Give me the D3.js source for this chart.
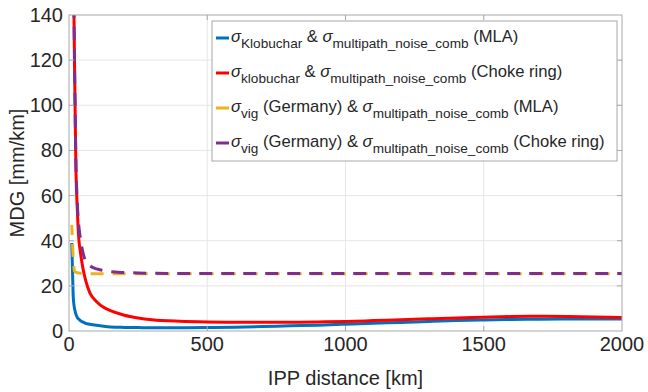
<!DOCTYPE html>
<meta charset="utf-8">
<style>
body { margin: 0; background: #fff; }
text { font-family: "Liberation Sans", Arial, sans-serif; fill: #262626; }
.grid line { stroke: #e6e6e6; stroke-width: 1; }
.frame { fill: none; stroke: #a8a8a8; stroke-width: 1; }
.tick-mark { stroke: #a8a8a8; stroke-width: 1; }
</style>
<body>
<script src="https://cdn.jsdelivr.net/npm/d3@7"></script>
<script>

// IPP distance [km]
var distance = [10, 12, 15, 18, 20, 25, 30, 36, 40, 50, 60, 75, 100, 125, 150, 200, 250, 300, 400, 500,
  600, 700, 800, 900, 1000, 1100, 1200, 1300, 1400, 1500, 1600, 1700, 1800, 1900, 2000];

// MDG [mm/km]
var klobucharMLA = [39, 30, 16, 11.5, 10, 7.5, 6, 5.2, 4.7, 4, 3.4, 3, 2.5, 2.1, 1.8, 1.6, 1.5, 1.4, 1.4, 1.5,
  1.7, 2.0, 2.3, 2.6, 3.0, 3.4, 3.8, 4.2, 4.6, 4.9, 5.1, 5.2, 5.3, 5.3, 5.3];
var klobucharChoke = [320, 240, 180, 140, 118, 72, 54, 40, 36, 28, 22.5, 17, 13, 10.5, 9, 7, 5.8, 5, 4.3, 4,
  3.9, 3.9, 3.9, 4.0, 4.2, 4.6, 5.0, 5.4, 5.8, 6.1, 6.4, 6.5, 6.4, 6.2, 6.0];
var vigMLA = [47, 41, 33, 28, 26.5, 26, 25.8, 25.7, 25.6, 25.5, 25.4, 25.4, 25.4, 25.4, 25.4, 25.4, 25.4, 25.4, 25.4, 25.4,
  25.4, 25.4, 25.4, 25.4, 25.4, 25.4, 25.4, 25.4, 25.4, 25.4, 25.4, 25.4, 25.4, 25.4, 25.4];
var vigChoke = [320, 240, 185, 142, 120, 75, 57, 46, 42, 35, 31, 29, 27.5, 26.8, 26.3, 25.9, 25.7, 25.6, 25.5, 25.5,
  25.5, 25.5, 25.5, 25.5, 25.5, 25.5, 25.5, 25.5, 25.5, 25.5, 25.5, 25.5, 25.5, 25.5, 25.5];

var xTicks = [0, 500, 1000, 1500, 2000];
var yTicks = [0, 20, 40, 60, 80, 100, 120, 140];

var series = [
  {values: klobucharMLA, color: "#0072BD", dash: null, sub1: "Klobuchar", mid: null, tail: " (MLA)"},
  {values: klobucharChoke, color: "#FF0000", dash: null, sub1: "klobuchar", mid: null, tail: " (Choke ring)"},
  {values: vigMLA, color: "#EDB120", dash: "13,9", sub1: "vig", mid: " (Germany)", tail: " (MLA)"},
  {values: vigChoke, color: "#7E2F8E", dash: "13,9", sub1: "vig", mid: " (Germany)", tail: " (Choke ring)"}
];

var width = 648,
	height = 392,
	margin = {top: 15, right: 26, bottom: 61, left: 69},
	w = width - margin.left - margin.right,
	h = height - margin.top - margin.bottom;

var svg = d3.select("body").append("svg")
	.attr("width", width)
	.attr("height", height);

var g = svg.append("g")
	.attr("transform", "translate(" + margin.left + "," + margin.top + ")");

var x = d3.scaleLinear().domain([0, 2000]).range([0, w]);
var y = d3.scaleLinear().domain([0, 140]).range([h, 0]);

// grid
var grid = g.append("g").attr("class", "grid");
grid.selectAll(".gx").data(xTicks.slice(1, -1)).enter().append("line")
	.attr("x1", function(d) { return x(d); }).attr("x2", function(d) { return x(d); })
	.attr("y1", 0).attr("y2", h);
grid.selectAll(".gy").data(yTicks.slice(1, -1)).enter().append("line")
	.attr("y1", function(d) { return y(d); }).attr("y2", function(d) { return y(d); })
	.attr("x1", 0).attr("x2", w);

// curves
svg.append("defs").append("clipPath").attr("id", "clip")
	.append("rect").attr("width", w).attr("height", h);

var line = d3.line()
	.x(function(d, i) { return x(distance[i]); })
	.y(function(d) { return y(d); })
	.curve(d3.curveMonotoneX);

g.append("g").attr("clip-path", "url(#clip)")
	.selectAll("path").data(series).enter().append("path")
	.attr("d", function(s) { return line(s.values); })
	.attr("fill", "none")
	.attr("stroke", function(s) { return s.color; })
	.attr("stroke-width", 3)
	.attr("stroke-dasharray", function(s) { return s.dash; })
	.attr("stroke-dashoffset", function(s, i) { return i == 2 ? 3 : 0; });

// frame and inner ticks
g.append("rect").attr("class", "frame").attr("width", w).attr("height", h);
xTicks.slice(1, -1).forEach(function(d) {
	g.append("line").attr("class", "tick-mark").attr("x1", x(d)).attr("x2", x(d)).attr("y1", h).attr("y2", h - 5);
	g.append("line").attr("class", "tick-mark").attr("x1", x(d)).attr("x2", x(d)).attr("y1", 0).attr("y2", 5);
});
yTicks.slice(1, -1).forEach(function(d) {
	g.append("line").attr("class", "tick-mark").attr("y1", y(d)).attr("y2", y(d)).attr("x1", 0).attr("x2", 5);
	g.append("line").attr("class", "tick-mark").attr("y1", y(d)).attr("y2", y(d)).attr("x1", w).attr("x2", w - 5);
});

// tick labels
g.selectAll(".xl").data(xTicks).enter().append("text")
	.attr("x", function(d) { return x(d); })
	.attr("y", h + 20)
	.attr("text-anchor", "middle")
	.style("font-size", "20px")
	.text(function(d) { return d; });

g.selectAll(".yl").data(yTicks).enter().append("text")
	.attr("x", -6)
	.attr("y", function(d) { return y(d) + 7; })
	.attr("text-anchor", "end")
	.style("font-size", "20px")
	.text(function(d) { return d; });

// axis labels
g.append("text")
	.attr("x", w / 2).attr("y", h + 54)
	.attr("text-anchor", "middle")
	.style("font-size", "20px")
	.text("IPP distance [km]");

g.append("text")
	.attr("transform", "translate(-45," + (h / 2) + ") rotate(-90)")
	.attr("text-anchor", "middle")
	.style("font-size", "20px")
	.text("MDG [mm/km]");

// legend
var legend = svg.append("g").attr("transform", "translate(212,21)");
legend.append("rect")
	.attr("width", 405).attr("height", 140)
	.attr("fill", "#fff").attr("stroke", "#a8a8a8");

series.forEach(function(s, i) {
	var yy = 21 + i * 35;
	legend.append("line")
		.attr("x1", 4).attr("x2", 17)
		.attr("y1", yy - 4).attr("y2", yy - 4)
		.attr("stroke", s.color).attr("stroke-width", 3);
	var t = legend.append("text")
		.attr("x", 19).attr("y", yy)
		.style("font-size", "16.6px");
	t.append("tspan").style("font-style", "italic").text("σ");
	t.append("tspan").attr("dy", 6).style("font-size", "13.6px").text(s.sub1);
	if (s.mid) {
		t.append("tspan").attr("dy", -6).text(s.mid + " & ");
	} else {
		t.append("tspan").attr("dy", -6).text(" & ");
	}
	t.append("tspan").style("font-style", "italic").text("σ");
	t.append("tspan").attr("dy", 6).style("font-size", "13.6px").text("multipath_noise_comb");
	t.append("tspan").attr("dy", -6).text(s.tail);
});

</script>
</body>
</html>
